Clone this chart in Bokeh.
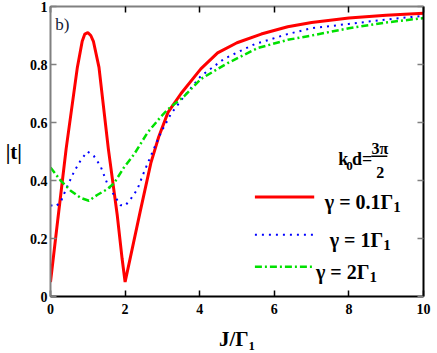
from bokeh.plotting import figure
from bokeh.models import Range1d, LinearAxis, FixedTicker, Label, CustomLabelingPolicy
from bokeh.embed import file_html
from bokeh.resources import INLINE

# ---- data ----
J_red = [0, 0.2, 0.42, 0.72, 0.85, 0.92, 1.0, 1.08, 1.15, 1.3, 1.55, 1.79, 1.92, 2.0, 2.1, 2.4, 2.69, 2.9,
         3.15, 3.5, 4.03, 4.48, 5.0, 5.65, 6.36, 7.0, 8.0, 9.0, 10.0]
t_red = [0.05, 0.27, 0.51, 0.79, 0.88, 0.905, 0.91, 0.90, 0.88, 0.79, 0.51, 0.28, 0.13, 0.05, 0.11, 0.29, 0.46, 0.55,
         0.635, 0.70, 0.785, 0.84, 0.875, 0.905, 0.93, 0.945, 0.96, 0.97, 0.977]

J_blue = [0, 0.13, 0.27, 0.45, 0.63, 0.81, 0.99, 1.16, 1.34, 1.52, 1.7, 1.88, 2.0, 2.15, 2.33, 2.51,
          2.69, 2.96, 3.23, 3.58, 4.03, 4.66, 5.47, 6.36, 7.0, 8.0, 9.0, 10.0]
t_blue = [0.315, 0.31, 0.325, 0.38, 0.43, 0.47, 0.50, 0.485, 0.45, 0.39, 0.35, 0.315, 0.313, 0.336, 0.37, 0.43,
          0.485, 0.565, 0.63, 0.69, 0.76, 0.82, 0.87, 0.905, 0.925, 0.94, 0.955, 0.968]

J_green = [0, 0.27, 0.54, 0.81, 1.03, 1.25, 1.52, 1.7, 1.97, 2.24, 2.6, 2.96, 3.14, 3.58, 4.03, 4.75,
           5.56, 6.36, 7.0, 8.0, 9.0, 10.0]
t_green = [0.445, 0.40, 0.365, 0.34, 0.33, 0.35, 0.37, 0.39, 0.445, 0.49, 0.565, 0.62, 0.645, 0.69, 0.75, 0.805,
           0.857, 0.885, 0.90, 0.925, 0.945, 0.96]

x_ticks = [0, 2, 4, 6, 8, 10]
x_tick_labels = ["0", "2", "4", "6", "8", "10"]
y_ticks = [0, 0.2, 0.4, 0.6, 0.8, 1]
y_tick_labels = ["0", "0.2", "0.4", "0.6", "0.8", "1"]

legend_main = ["γ = 0.1Γ", "γ = 1Γ", "γ = 2Γ"]
legend_sub = ["1", "1", "1"]

SERIF = "Liberation Serif"
GRAY = "#808080"

p = figure(width=437, height=353, x_range=Range1d(0, 10), y_range=Range1d(0, 1),
           output_backend="svg", toolbar_location=None,
           min_border_left=50, min_border_right=14, min_border_top=6, min_border_bottom=55)
p.outline_line_color = None
p.xgrid.visible = False
p.ygrid.visible = False
p.background_fill_color = "white"
p.border_fill_color = "white"

def style_axis(ax, ticks, labels, line_color, tick_color, size="14px"):
    ax.ticker = FixedTicker(ticks=ticks)
    ax.major_label_overrides = {t: l for t, l in zip(ticks, labels)}
    ax.minor_tick_line_color = None
    ax.major_tick_in = 6
    ax.major_tick_out = 0
    ax.major_tick_line_width = 1.5
    ax.major_tick_line_color = tick_color
    ax.axis_line_color = line_color
    ax.axis_line_width = 2
    ax.major_label_text_font = SERIF
    ax.major_label_text_font_style = "bold"
    ax.major_label_text_font_size = size
    ax.major_label_text_color = "black"

xa = p.xaxis[0]
style_axis(xa, x_ticks, x_tick_labels, "black", "black")
xa.major_label_standoff = 7
xa.axis_label = "J/Γ₁"
xa.axis_label_text_font = SERIF
xa.axis_label_text_font_style = "bold"
xa.axis_label_text_font_size = "21px"
xa.axis_label_text_color = "black"
xa.axis_label_standoff = 10

ya = p.yaxis[0]
style_axis(ya, y_ticks, y_tick_labels, GRAY, GRAY)
ya.major_label_standoff = 3
ya.axis_label = "|t|"
ya.axis_label_orientation = "horizontal"
ya.axis_label_text_font = SERIF
ya.axis_label_text_font_style = "bold"
ya.axis_label_text_font_size = "21px"
ya.axis_label_text_color = "black"
ya.axis_label_standoff = 5

top = LinearAxis()
style_axis(top, x_ticks, x_tick_labels, GRAY, "black", size="1px")
top.major_label_standoff = 0
top.major_label_policy = CustomLabelingPolicy(code="for (const i of indices) indices.unset(i)")
p.add_layout(top, "above")
right = LinearAxis()
style_axis(right, y_ticks, y_tick_labels, "black", GRAY, size="1px")
right.major_label_standoff = 0
right.major_label_policy = CustomLabelingPolicy(code="for (const i of indices) indices.unset(i)")
p.add_layout(right, "right")

# ---- curves ----
p.line(J_red, t_red, line_color="#ff0000", line_width=3)
p.line(J_blue, t_blue, line_color="#0000ff", line_width=2, line_dash="2 5")
p.line(J_green, t_green, line_color="#00e000", line_width=2.5, line_dash="7 3 2 3")

# ---- legend (drawn manually to allow subscripts) ----
leg_x0, leg_x1 = 5.48, 7.07
leg_y = [0.343, 0.2127, 0.1029]
leg_colors = ["#ff0000", "#0000ff", "#00e000"]
leg_widths = [3, 2, 2.5]
leg_dash = ["solid", "2 5", "7 3 2 3"]
leg_text_end = [9.19, 8.92, 8.55]
leg_base = [0.326, 0.1955, 0.0858]
for i in range(3):
    p.line([leg_x0, leg_x1], [leg_y[i], leg_y[i]], line_color=leg_colors[i],
           line_width=leg_widths[i], line_dash=leg_dash[i])
    p.add_layout(Label(x=leg_text_end[i], y=leg_base[i], text=legend_main[i], text_align="right",
                       text_baseline="alphabetic", text_font=SERIF, text_font_style="bold",
                       text_font_size="20px", text_color="black"))
    p.add_layout(Label(x=leg_text_end[i], y=leg_base[i] - 0.018, text=legend_sub[i], text_align="left",
                       text_baseline="alphabetic", text_font=SERIF, text_font_style="bold",
                       text_font_size="15px", text_color="black"))

def lab(x, y, text, size, align="left", baseline="alphabetic", color="black", style="bold"):
    p.add_layout(Label(x=x, y=y, text=text, text_align=align, text_baseline=baseline,
                       text_font=SERIF, text_font_style=style, text_font_size=size,
                       text_color=color))

# k0 d = 3π/2
lab(7.715, 0.4734, "k", "18px")
lab(7.93, 0.449, "0", "13px")
lab(8.08, 0.4734, "d=", "18px")
lab(8.83, 0.511, "3π", "16px", align="center")
lab(8.84, 0.4288, "2", "16px", align="center")
p.segment(x0=[8.60], y0=[0.4837], x1=[9.03], y1=[0.4837], line_color="black", line_width=1.5)

# panel label
lab(0.13, 0.937, "b)", "17px", style="normal", color="#152035")

open("out.html", "w").write(file_html(p, INLINE))
